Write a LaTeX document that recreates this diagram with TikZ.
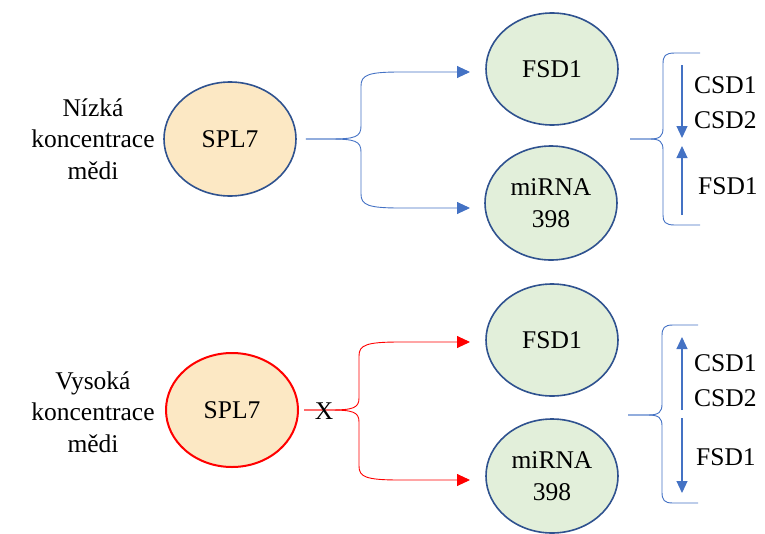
\documentclass[tikz,border=0pt]{standalone}
\usepackage{fontspec}
\setmainfont{Liberation Serif}
\usetikzlibrary{arrows.meta,shapes.geometric}
\definecolor{bdr}{HTML}{2F528F}
\definecolor{gfill}{HTML}{E2EFDA}
\definecolor{ofill}{HTML}{FCE8C4}
\definecolor{arr}{HTML}{4472C4}
\definecolor{redc}{HTML}{FF0000}
\tikzset{
  x=1pt,y=-1pt,
  every node/.style={font=\fontsize{25.5}{31.5}\selectfont},
  bub/.style={ellipse,draw=bdr,line width=1.6pt,minimum width=132pt,minimum height=114pt,inner sep=0pt,align=center},
  gbub/.style={bub,fill=gfill},
  obub/.style={bub,fill=ofill},
  lbl/.style={align=center},
  conn/.style={draw=arr,line width=0.9pt,-{Triangle[length=13pt,width=12pt]}},
  rconn/.style={conn,draw=redc,-{Triangle[length=13pt,width=12pt]}},
  brc/.style={draw=arr,line width=0.9pt},
  varr/.style={draw=arr,line width=1.1pt,-{Triangle[length=12pt,width=11pt]}},
  side/.style={anchor=west,inner sep=0pt}
}
\begin{document}
\begin{tikzpicture}
\useasboundingbox (0,0) rectangle (765,533);
% top half
\node[lbl] (t1) at (93,139) {Nízká\\koncentrace\\mědi};
\node[obub] (s1) at (230,139) {SPL7};
\node[gbub,minimum height=112pt] (f1) at (552,69) {FSD1};
\node[gbub] (m1) at (551,203) {miRNA\\398};
\coordinate (a1) at (470,72);
\coordinate (b1) at (470,208);
\draw[conn] ([xshift=9pt]s1.east) -- (330,139) .. controls (355,139) and (361,137) .. (361,126) -- (361,86) .. controls (361,75) and (368,72) .. (400,72) -- (a1);
\draw[conn] ([xshift=9pt]s1.east) -- (330,139) .. controls (355,139) and (361,141) .. (361,152) -- (361,194) .. controls (361,205) and (368,208) .. (400,208) -- (b1);
% top right brace
\coordinate (tb) at (630,139);
\draw[brc] (700,53) -- (675,53) .. controls (665,53) and (663,56) .. (663,64) -- (663,128) .. controls (663,136) and (660,139) .. (650,139) -- (tb);
\draw[brc] (tb) -- (650,139) .. controls (660,139) and (663,142) .. (663,150) -- (663,215) .. controls (663,222) and (665,225) .. (675,225) -- (700,225);
\coordinate (u1s) at (682,65);
\coordinate (u1e) at (682,138);
\coordinate (u2s) at (682,215);
\coordinate (u2e) at (682,146);
\draw[varr] (u1s) -- (u1e);
\draw[varr] (u2s) -- (u2e);
\node[side] (c1) at (694,85) {CSD1};
\node[side] (c2) at (694,120) {CSD2};
\node[side] (c3) at (698,186) {FSD1};
% bottom half
\node[lbl] (t2) at (93,412) {Vysoká\\koncentrace\\mědi};
\node[obub,draw=redc,line width=2pt] (s2) at (232,410) {SPL7};
\node[gbub,minimum height=112pt] (f2) at (552,340) {FSD1};
\node[gbub] (m2) at (552,476) {miRNA\\398};
\coordinate (a2) at (470,342);
\coordinate (b2) at (470,480);
\draw[rconn] ([xshift=5pt]s2.east) -- (330,410) .. controls (353,410) and (359,408) .. (359,398) -- (359,356) .. controls (359,345) and (366,342) .. (400,342) -- (a2);
\draw[rconn] ([xshift=5pt]s2.east) -- (330,410) .. controls (353,410) and (359,412) .. (359,422) -- (359,466) .. controls (359,477) and (366,480) .. (400,480) -- (b2);
\node[inner sep=0pt] (x) at (324,411) {X};
% bottom right brace
\coordinate (bb) at (628,415);
\draw[brc] (698,325) -- (673,325) .. controls (664,325) and (662,328) .. (662,336) -- (662,404) .. controls (662,412) and (659,415) .. (648,415) -- (bb);
\draw[brc] (bb) -- (648,415) .. controls (659,415) and (662,418) .. (662,426) -- (662,492) .. controls (662,500) and (664,503) .. (673,503) -- (698,503);
\coordinate (d1s) at (682,410);
\coordinate (d1e) at (682,337);
\coordinate (d2s) at (682,418);
\coordinate (d2e) at (682,493);
\draw[varr] (d1s) -- (d1e);
\draw[varr] (d2s) -- (d2e);
\node[side] (e1) at (694,363) {CSD1};
\node[side] (e2) at (694,398) {CSD2};
\node[side] (e3) at (696,457) {FSD1};
\end{tikzpicture}
\end{document}
